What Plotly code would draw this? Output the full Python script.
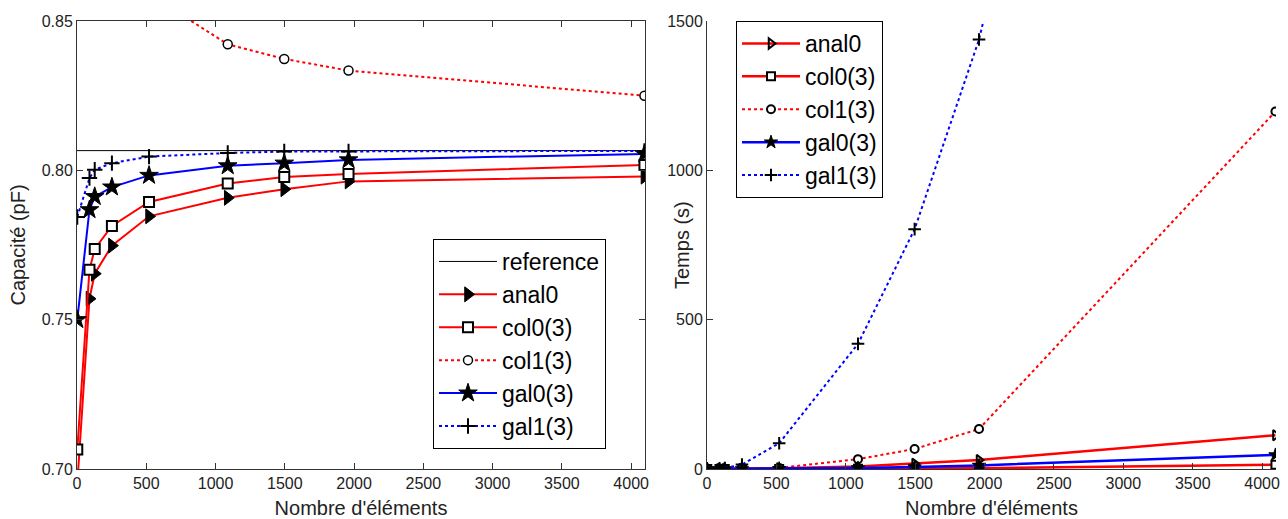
import plotly.graph_objects as go

# ---------------- data ----------------
n_elements = [2, 90, 128, 252, 520, 1088, 1496, 1960, 4096]

# Capacité (pF)
reference_x = [0, 4100]
reference_val = 0.8066
cap_anal0 = [0.695, 0.757, 0.7654, 0.7748, 0.7846, 0.7908, 0.7937, 0.7963, 0.7979]
cap_col0 = [0.7065, 0.7667, 0.7737, 0.7814, 0.7894, 0.7956, 0.7978, 0.7988, 0.8018]
cap_col1 = [0.98, 0.90, 0.885, 0.87, 0.859, 0.8422, 0.8373, 0.8334, 0.8250]
cap_gal0 = [0.750, 0.7868, 0.7912, 0.7944, 0.7983, 0.8015, 0.8024, 0.8035, 0.8055]
cap_gal1 = [0.7844, 0.7974, 0.8002, 0.8024, 0.8046, 0.8058, 0.8063, 0.8063, 0.8065]

# Temps (s)
t_anal0 = [0.01, 0.1, 0.2, 0.7, 2.5, 8, 18, 30, 113]
t_col0 = [0.01, 0.05, 0.1, 0.2, 0.4, 0.8, 1.2, 2.5, 14]
t_col1 = [0.05, 0.3, 0.5, 1.5, 3.5, 33, 67, 134, 1197]
t_gal0 = [0.01, 0.1, 0.2, 0.5, 1.2, 3.5, 6.5, 12, 47]
t_gal1 = [0.05, 1.5, 3, 15, 86, 419, 803, 1438, 5600]

x_ticks = [0, 500, 1000, 1500, 2000, 2500, 3000, 3500, 4000]
cap_ticks = [0.70, 0.75, 0.80, 0.85]
time_ticks = [0, 500, 1000, 1500]

# ---------------- style ----------------
W, H = 1288, 519
FONT = "Liberation Sans, Arial, Helvetica, sans-serif"
AX = "#333333"
RED = "#ff0000"
BLUE = "#0000ff"

fig = go.Figure()

def add(x, y, name, color, dash, symbol, size, mfill, mline, xa, ya, legend, width=2):
    fig.add_trace(go.Scatter(
        x=x, y=y, name=name, mode="lines+markers" if symbol else "lines",
        line=dict(color=color, width=width, dash=dash),
        marker=dict(symbol=symbol or "circle", size=size, color=mfill,
                    line=dict(color="black", width=mline)),
        xaxis=xa, yaxis=ya, legend=legend, legendgroup=legend + name,
    ))

# left panel
fig.add_trace(go.Scatter(
    x=reference_x, y=[reference_val] * len(reference_x), name="reference",
    mode="lines", line=dict(color="black", width=1),
    xaxis="x", yaxis="y", legend="legend", legendgroup="lref"))
add(n_elements, cap_anal0, "anal0", RED, "solid", "triangle-right", 13, "black", 1, "x", "y", "legend")
add(n_elements, cap_col0, "col0(3)", RED, "solid", "square", 10, "white", 2, "x", "y", "legend")
add(n_elements, cap_col1, "col1(3)", RED, "dot", "circle", 9, "white", 1.5, "x", "y", "legend")
add(n_elements, cap_gal0, "gal0(3)", BLUE, "solid", "star", 14, "black", 1, "x", "y", "legend")
add(n_elements, cap_gal1, "gal1(3)", BLUE, "dot", "cross-thin", 11, "black", 2, "x", "y", "legend")

# right panel
add(n_elements, t_anal0, "anal0", RED, "solid", "triangle-right-open", 9, "black", 2, "x2", "y2", "legend2", 2.5)
add(n_elements, t_col0, "col0(3)", RED, "solid", "square", 8, "white", 2, "x2", "y2", "legend2", 2.5)
add(n_elements, t_col1, "col1(3)", RED, "dot", "circle", 8, "white", 2, "x2", "y2", "legend2", 2)
add(n_elements, t_gal0, "gal0(3)", BLUE, "solid", "star", 10, "black", 1, "x2", "y2", "legend2", 2.5)
add(n_elements, t_gal1, "gal1(3)", BLUE, "dot", "cross-thin", 9, "black", 2, "x2", "y2", "legend2", 2)

ydom = [1 - 469 / H, 1 - 21 / H]
tickfont = dict(family=FONT, size=16, color="#222")
titlefont = dict(family=FONT, size=20, color="#222")

common_x = dict(range=[0, 4100], tickvals=x_ticks, ticks="inside", ticklen=6,
                tickcolor=AX, linecolor=AX, linewidth=1, showline=True,
                showgrid=False, zeroline=False, tickfont=tickfont, automargin=False)

fig.update_layout(
    width=W, height=H,
    margin=dict(l=0, r=0, t=0, b=0),
    paper_bgcolor="white", plot_bgcolor="white",
    font=dict(family=FONT, color="black"),
    xaxis=dict(domain=[77 / W, 645 / W], mirror="ticks",
               title=dict(text="Nombre d'éléments", font=titlefont, standoff=10),
               **common_x),
    yaxis=dict(domain=ydom, range=[0.70, 0.85], tickvals=cap_ticks, tickformat=".2f",
               ticks="inside", ticklen=6, tickcolor=AX, linecolor=AX, linewidth=1,
               showline=True, mirror="ticks", showgrid=False, zeroline=False,
               tickfont=tickfont, automargin=False,
               title=dict(text="Capacité (pF)", font=titlefont, standoff=10)),
    xaxis2=dict(domain=[707 / W, 1276 / W], anchor="y2", mirror=False,
                title=dict(text="Nombre d'éléments", font=titlefont, standoff=10),
                **common_x),
    yaxis2=dict(domain=ydom, anchor="x2", range=[0, 1500], tickvals=time_ticks,
                ticks="inside", ticklen=6, tickcolor=AX, linecolor=AX, linewidth=1,
                showline=True, mirror=False, showgrid=False, zeroline=False,
                tickfont=tickfont, automargin=False),
    legend=dict(x=433 / W, y=1 - 239 / H, xanchor="left", yanchor="top",
                bgcolor="white", bordercolor="black", borderwidth=1,
                font=dict(family=FONT, size=23, color="black"),
                itemwidth=58, entrywidth=124, tracegroupgap=0, traceorder="normal"),
    legend2=dict(x=736 / W, y=1 - 21 / H, xanchor="left", yanchor="top",
                 bgcolor="white", bordercolor="black", borderwidth=1,
                 font=dict(family=FONT, size=23, color="black"),
                 itemwidth=58, entrywidth=89, tracegroupgap=0, traceorder="normal"),
    annotations=[dict(text="Temps (s)", textangle=-90, x=682 / W, y=1 - 245 / H,
                      xref="paper", yref="paper", showarrow=False,
                      font=titlefont, xanchor="center", yanchor="middle")],
)

fig.write_html("out.html",
               config={"displayModeBar": False},
               post_script="document.body.style.margin='0px';"
                           "document.body.style.overflow='hidden';")
